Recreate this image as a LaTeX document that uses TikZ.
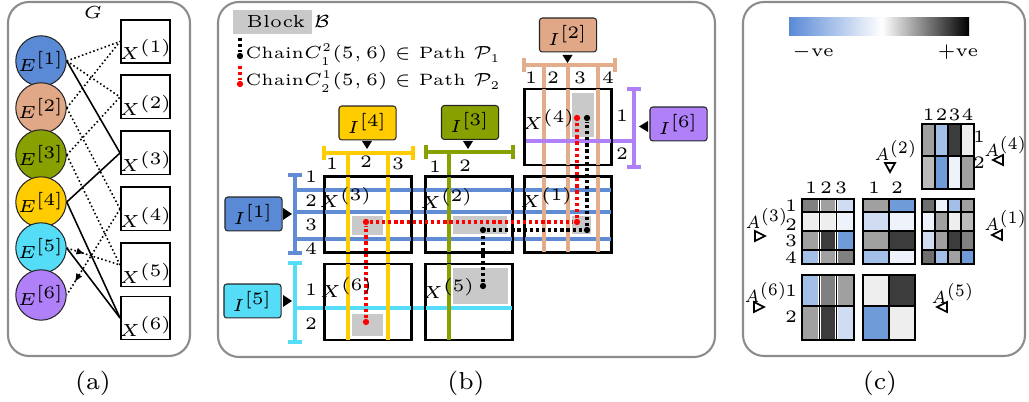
\documentclass[tikz,border=0pt]{standalone}
\usetikzlibrary{arrows.meta,decorations.markings}
\definecolor{cEa}{HTML}{5A8AD6}
\definecolor{cEb}{HTML}{E0A886}
\definecolor{cEc}{HTML}{88A000}
\definecolor{cEd}{HTML}{FFCC00}
\definecolor{cEe}{HTML}{55DDF8}
\definecolor{cEf}{HTML}{B080F8}
\definecolor{lnA}{HTML}{5F8CD2}
\definecolor{lnB}{HTML}{E3AD8C}
\definecolor{mcA}{HTML}{6F9BD9}
\definecolor{mcB}{HTML}{A3BFE8}
\definecolor{mcC}{HTML}{D0DCF2}
\definecolor{mcD}{HTML}{EEF2FA}
\definecolor{mgE}{HTML}{EEEEEE}
\definecolor{mgB}{HTML}{BBBBBB}
\definecolor{mgA}{HTML}{A0A0A0}
\definecolor{mgC}{HTML}{808080}
\definecolor{mgF}{HTML}{6E6E6E}
\definecolor{mgD}{HTML}{3C3C3C}
\newcommand\mcell[5]{\fill[#5] (#1+1.3,#2+1.3) rectangle (#3-1.3,#4-1.3); \draw[cellb] (#1,#2) rectangle (#3,#4);}
\newcommand\mrow[5]{\foreach \cc [count=\ii from 0] in {#5} {\mcell{#1+#2*\ii}{#3}{#1+#2*\ii+#2}{#4}{\cc}}}
\newcommand\alab[1]{\scalebox{0.85}[1]{$A^{(#1)}$}}
\newcommand\smn[1]{\hbox{\fontsize{3.4}{4}\selectfont #1}}
\begin{document}
\begin{tikzpicture}[x=0.2857pt,y=-0.2857pt,font=\tiny,
  panel/.style={draw=black!45, line width=0.6pt, rounded corners=6pt},
  ecirc/.style={circle, draw=black!85, line width=0.3pt, minimum size=12.3pt, inner sep=0pt},
  xbox/.style={draw=black, line width=0.55pt, minimum width=14pt, minimum height=12.3pt, inner sep=0pt},
  ibox/.style={draw=black!85, line width=0.3pt, rounded corners=0.8pt, minimum width=16.3pt, minimum height=9.7pt, inner sep=0pt},
  bnode/.style={draw=black, line width=0.45pt, minimum width=24.57pt, minimum height=21.5pt, inner sep=0pt},
  gblk/.style={fill=black!21, draw=white, line width=0.3pt},
  cl/.style={line width=1.15pt},
  sedge/.style={line width=0.45pt},
  dedge/.style={line width=0.45pt, dash pattern=on 0.45pt off 0.7pt},
  chain/.style={line width=0.9pt, dash pattern=on 0.9pt off 0.85pt},
  dotc/.style={circle, fill, inner sep=0pt, minimum size=1.8pt},
  cellb/.style={draw=black, line width=0.3pt},
  otri/.style={draw=black, line width=0.5pt, line join=miter},
  txt/.style={inner sep=0pt},
  legtxt/.style={inner sep=0pt, font=\fontsize{4.7}{5.5}\selectfont},
  captxt/.style={font=\fontsize{7}{8}\selectfont, inner sep=0pt},
  midarrow/.style={postaction={decorate}, decoration={markings, mark=at position #1 with {\arrow{Latex[length=2.4pt,width=2pt]}}}}
]
\useasboundingbox (0,0) rectangle (1029,402);

% ---------------- panel (a)
\draw[panel] (8,2) rectangle (190,356);
\node[txt] (G) at (93,13) {$G$};
\foreach \i/\y/\c in {1/61/cEa,2/108/cEb,3/155/cEc,4/202/cEd,5/248/cEe,6/295/cEf}
  \node[ecirc,fill=\c] (E\i) at (41,\y) {$E^{[\i]}$};
\foreach \i/\y in {1/41.5,2/97,3/153,4/209,5/265,6/318}{
  \node[xbox] (X\i) at (145.5,\y) {};
  \node[txt] (XL\i) at (146,\y+8) {$X^{(\i)}$};
}
\draw[dedge] (E1.east) -- (X1.west);
\draw[dedge] (E1.east) -- (X2.west);
\draw[sedge] (E1.east) -- (X3.west);
\draw[dedge] (E2.east) -- (X1.west);
\draw[dedge] (E2.east) -- (X4.west);
\draw[dedge] (E3.east) -- (X2.west);
\draw[dedge] (E3.east) -- (X5.west);
\draw[sedge] (E4.east) -- (X3.west);
\draw[sedge] (E4.east) -- (X6.west);
\draw[sedge] (E5.east) -- (X6.west);
\draw[dedge, midarrow=0.34] (E5.east) -- (X5.west);
\draw[dedge, midarrow=0.85] (X4.west) -- (E6.east);
\node[captxt] (capa) at (93,383) {(a)};

% ---------------- panel (b)
\draw[panel] (218,2) rectangle (715,357);
\node[fill=black!21, minimum width=22.6pt, minimum height=6.9pt, inner sep=0pt] (LB) at (272.5,22) {};
\node[txt, anchor=west] (LBt) at (246,22) {Block $\mathcal{B}$};
\coordinate (lg1) at (240,38);
\node[dotc] (lgd1) at (240,56) {};
\draw[chain] (lg1) -- (lgd1);
\node[legtxt, anchor=west] (lgt1) at (245,55) {Chain$C^{\smn{2}}_{\smn{1}}(5,6)\in$ Path $\mathcal{P}_{\smn{1}}$};
\coordinate (lg2) at (240,66);
\node[dotc, red] (lgd2) at (240,84) {};
\draw[chain, red] (lg2) -- (lgd2);
\node[legtxt, anchor=west] (lgt2) at (245,82) {Chain$C^{\smn{1}}_{\smn{2}}(5,6)\in$ Path $\mathcal{P}_{\smn{2}}$};

% blocks
\node[bnode] (B3) at (368,214.5) {};
\node[bnode] (B2) at (469,214.5) {};
\node[bnode] (B1) at (568,214.5) {};
\node[bnode] (B6) at (368,302) {};
\node[bnode] (B5) at (469,302) {};
\node[bnode] (B4) at (568,127) {};
% gray sub-blocks
\draw[gblk] (351,215) rectangle (384,236);
\draw[gblk] (351,313) rectangle (384,337);
\draw[gblk] (452,215) rectangle (508,235);
\draw[gblk] (452,267) rectangle (509,305);
\draw[gblk] (571,215) rectangle (592,235);
\draw[gblk] (571,92) rectangle (595,138);

% I1 (blue)
\draw[cl, lnA] (295,175) -- (295,253) (288,175) -- (302,175) (288,253) -- (302,253);
\foreach \y in {190,212,239} \draw[cl, lnA] (295,\y) -- (611,\y);
% I5 (cyan)
\draw[cl, cEe] (295,263) -- (295,342) (288,263) -- (302,263) (288,342) -- (302,342);
\draw[cl, cEe] (295,308) -- (512,308);
% I4 (yellow)
\draw[cl, cEd] (324,153) -- (413,153) (324,146) -- (324,160) (413,146) -- (413,160);
\foreach \x in {348,388} \draw[cl, cEd] (\x,153) -- (\x,340);
% I3 (green)
\draw[cl, cEc] (426,152) -- (513,152) (426,145) -- (426,159) (513,145) -- (513,159);
\draw[cl, cEc] (449,152) -- (449,340);
% I2 (tan)
\draw[cl, lnB] (524,65) -- (615,65) (524,58) -- (524,72) (615,58) -- (615,72);
\foreach \x in {544,568,598} \draw[cl, lnB] (\x,65) -- (\x,252);
% I6 (purple)
\draw[cl, cEf] (634,89) -- (634,167) (627,89) -- (641,89) (627,167) -- (641,167);
\draw[cl, cEf] (526,141) -- (634,141);

% redraw block outlines on top
\foreach \b in {B1,B2,B3,B4,B5,B6} \draw[line width=0.45pt] (\b.north west) rectangle (\b.south east);

% index numbers
\foreach \t/\y in {1/177,2/201,3/225,4/249} \node[txt] (n1\t) at (311,\y) {\t};
\foreach \t/\y in {1/290,2/324} \node[txt] (n5\t) at (311,\y) {\t};
\foreach \t/\x/\y in {1/332/164,2/366/162,3/398/164} \node[txt] (n4\t) at (\x,\y) {\t};
\foreach \t/\x/\y in {1/435/167,2/465/166} \node[txt] (n3\t) at (\x,\y) {\t};
\foreach \t/\x in {1/531,2/553,3/580,4/608} \node[txt] (n2\t) at (\x,78) {\t};
\foreach \t/\y in {1/116,2/154} \node[txt] (n6\t) at (622,\y) {\t};

% I nodes
\node[ibox, fill=cEa] (I1) at (253.5,214) {$I^{[1]}$};
\node[ibox, fill=cEe] (I5) at (252.5,301) {$I^{[5]}$};
\node[ibox, fill=cEd] (I4) at (367.5,123) {$I^{[4]}$};
\node[ibox, fill=cEc] (I3) at (470,122.5) {$I^{[3]}$};
\node[ibox, fill=cEb] (I2) at (568,35) {$I^{[2]}$};
\node[ibox, fill=cEf] (I6) at (678.5,124) {$I^{[6]}$};
% pointers
\fill (283,208) -- (292,214) -- (283,220) -- cycle;
\fill (283,295) -- (292,301) -- (283,307) -- cycle;
\fill (362,141) -- (372,141) -- (367,149) -- cycle;
\fill (463,141) -- (473,141) -- (468,149) -- cycle;
\fill (562.5,55) -- (572.5,55) -- (567.5,63) -- cycle;
\fill (648,121) -- (639,126.5) -- (648,132) -- cycle;

% chains
\node[dotc, red] (r1) at (366,322) {};
\node[dotc, red] (r2) at (366,222) {};
\node[dotc, red] (r3) at (577,222) {};
\node[dotc, red] (r4) at (577,118) {};
\draw[chain, red] (r1) -- (r2) -- (r3) -- (r4);
\node[dotc] (k1) at (483,286) {};
\node[dotc] (k2) at (483,230) {};
\node[dotc] (k3) at (587,230) {};
\node[dotc] (k4) at (587,118) {};
\draw[chain] (k1) -- (k2) -- (k3) -- (k4);

% block labels
\node[txt] (L3) at (346,197) {$X^{(3)}$};
\node[txt] (L2) at (447,198) {$X^{(2)}$};
\node[txt] (L1) at (547,197) {$X^{(1)}$};
\node[txt] (L4) at (549,119) {$X^{(4)}$};
\node[txt] (L6) at (347,287) {$X^{(6)}$};
\node[txt] (L5) at (449,288) {$X^{(5)}$};
\node[captxt] (capb) at (466,383) {(b)};

% ---------------- panel (c)
\draw[panel] (743,2) rectangle (1025,356);
\shade[left color=cEa, right color=white] (789,18) rectangle (882,36);
\shade[left color=white, right color=black] (882,18) rectangle (969,36);
\node[txt] (neg) at (813,52) {$-$ve};
\node[txt] (pos) at (958,52) {$+$ve};

% A4
\mrow{922}{13}{124}{156}{mgA,mcB,mgD,mgE}
\mrow{922}{13}{156}{189}{mgB,mcA,mcD,mgA}
\draw[line width=0.45pt] (922,124) rectangle (974,189);
\foreach \t/\x in {1/928.5,2/941.5,3/954.5,4/967.5} \node[txt] (c4\t) at (\x,115) {\t};
\node[txt] (r41) at (979,137) {1};
\node[txt] (r42) at (979,163) {2};
\node[txt, anchor=east] (A4) at (1028,146) {\alab{4}};
\draw[otri] (1003,155) -- (993,160) -- (1003,165) -- cycle;

% A3
\mrow{802}{17.33}{199}{212}{mgC,mgA,mcC}
\mrow{802}{17.33}{212}{231}{mgE,mgE,mcD}
\mrow{802}{17.33}{231}{250}{mgA,mgD,mcA}
\mrow{802}{17.33}{250}{264}{mcB,mgA,mgC}
\draw[line width=0.45pt] (802,199) rectangle (854,264);
\foreach \t/\x in {1/811,2/826,3/841} \node[txt] (c3\t) at (\x,188) {\t};
\foreach \t/\y in {1/206,2/225,3/241,4/258} \node[txt] (r3\t) at (791,\y) {\t};
\node[txt] (A3) at (767,218) {\alab{3}};
\draw[otri] (755,231) -- (765,236) -- (755,241) -- cycle;

% A2
\mrow{863}{26}{199}{212}{mgA,mcA}
\mrow{863}{26}{212}{231}{mcC,mcD}
\mrow{863}{26}{231}{250}{mgA,mgD}
\mrow{863}{26}{250}{264}{mcB,mcD}
\draw[line width=0.45pt] (863,199) rectangle (915,264);
\node[txt] (c21) at (874,188) {1};
\node[txt] (c22) at (897,188) {2};
\node[txt] (A2) at (896,150) {\alab{2}};
\draw[otri] (885,163) -- (895,163) -- (890,172) -- cycle;

% A1
\mrow{922}{13}{199}{212}{mgF,mcD,mcB,mgA}
\mrow{922}{13}{212}{231}{mcD,mgA,mgE,mgB}
\mrow{922}{13}{231}{250}{mcC,mgA,mgD,mgC}
\mrow{922}{13}{250}{264}{mgF,mcB,mgA,mcA}
\draw[line width=0.5pt] (922,199) rectangle (974,264);
\node[txt, anchor=east] (A1) at (1028,220) {\alab{1}};
\draw[otri] (1002,230) -- (992,235) -- (1002,240) -- cycle;

% A6
\mrow{802}{17.33}{275}{306}{mcB,mgC,mgA}
\mrow{802}{17.33}{306}{340}{mgA,mgD,mcC}
\draw[line width=0.45pt] (802,275) rectangle (854,340);
\node[txt] (r61) at (791,291) {1};
\node[txt] (r62) at (791,317) {2};
\node[txt] (A6) at (766,292) {\alab{6}};
\draw[otri] (754,302) -- (764,307) -- (754,312) -- cycle;

% A5
\mrow{863}{26}{275}{306}{mgE,mgD}
\mrow{863}{26}{306}{340}{mcA,mgE}
\draw[line width=0.45pt] (863,275) rectangle (915,340);
\node[txt] (A5) at (953,293) {\alab{5}};
\draw[otri] (947,302) -- (937,307) -- (947,312) -- cycle;

\node[captxt] (capc) at (880,383) {(c)};
\end{tikzpicture}
\end{document}
